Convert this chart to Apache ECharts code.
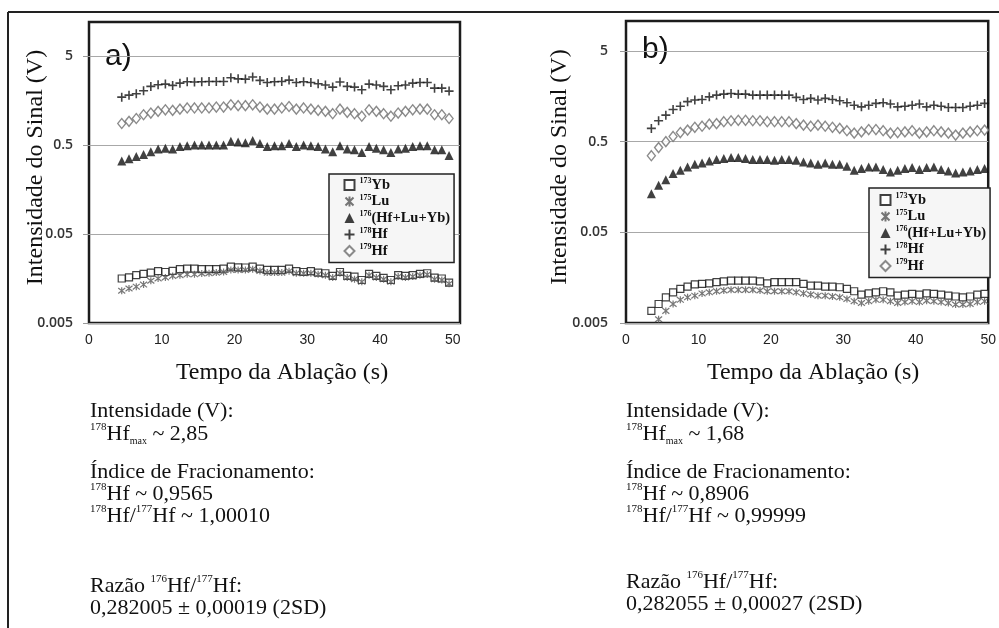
<!DOCTYPE html>
<html><head><meta charset="utf-8">
<script src="https://cdn.jsdelivr.net/npm/echarts@6/dist/echarts.min.js"></script>
<style>html,body{margin:0;padding:0;background:#fff}#c{width:999px;height:628px}</style>
</head><body><div id="c"></div>
<script>
// ---------- DATA ----------
const timeA = [4.5,5.5,6.5,7.5,8.5,9.5,10.5,11.5,12.5,13.5,14.5,15.5,16.5,17.5,18.5,19.5,20.5,21.5,22.5,23.5,24.5,25.5,26.5,27.5,28.5,29.5,30.5,31.5,32.5,33.5,34.5,35.5,36.5,37.5,38.5,39.5,40.5,41.5,42.5,43.5,44.5,45.5,46.5,47.5,48.5,49.5];
const yb173A = [0.0158,0.0163,0.0172,0.0178,0.0184,0.0191,0.0187,0.0192,0.0201,0.0204,0.0204,0.0201,0.0201,0.0201,0.0204,0.0215,0.0211,0.0210,0.0215,0.0204,0.0197,0.0197,0.0197,0.0204,0.0191,0.0187,0.0191,0.0184,0.0181,0.0169,0.0187,0.0169,0.0166,0.0152,0.0178,0.0169,0.0161,0.0152,0.0172,0.0169,0.0172,0.0178,0.0181,0.0162,0.0158,0.0142];
const lu175A = [0.0115,0.0122,0.0128,0.0135,0.0149,0.0158,0.0162,0.0169,0.0172,0.0176,0.0176,0.0180,0.0181,0.0184,0.0187,0.0197,0.0197,0.0197,0.0201,0.0192,0.0184,0.0184,0.0184,0.0191,0.0181,0.0181,0.0181,0.0176,0.0172,0.0162,0.0181,0.0162,0.0155,0.0145,0.0172,0.0162,0.0155,0.0145,0.0166,0.0162,0.0166,0.0172,0.0175,0.0155,0.0152,0.0138];
const sum176A = [0.33,0.35,0.37,0.39,0.42,0.45,0.46,0.45,0.48,0.49,0.50,0.50,0.50,0.50,0.50,0.55,0.54,0.53,0.56,0.52,0.48,0.49,0.49,0.52,0.48,0.50,0.49,0.48,0.45,0.42,0.49,0.45,0.44,0.41,0.48,0.46,0.44,0.41,0.45,0.46,0.48,0.49,0.49,0.44,0.44,0.38];
const hf178A = [1.72,1.81,1.88,2.03,2.27,2.37,2.41,2.33,2.47,2.56,2.54,2.56,2.58,2.58,2.58,2.84,2.76,2.74,2.89,2.65,2.51,2.56,2.58,2.67,2.51,2.56,2.51,2.43,2.35,2.23,2.54,2.27,2.23,2.08,2.41,2.35,2.27,2.08,2.31,2.35,2.47,2.51,2.51,2.17,2.17,2.01];
const hf179A = [0.87,0.92,0.99,1.09,1.14,1.19,1.24,1.22,1.26,1.30,1.30,1.30,1.30,1.33,1.33,1.41,1.38,1.38,1.41,1.33,1.26,1.26,1.30,1.35,1.26,1.30,1.26,1.22,1.19,1.12,1.26,1.16,1.12,1.05,1.24,1.19,1.12,1.05,1.14,1.19,1.24,1.26,1.26,1.09,1.09,0.99];

const timeB = [3.5,4.5,5.5,6.5,7.5,8.5,9.5,10.5,11.5,12.5,13.5,14.5,15.5,16.5,17.5,18.5,19.5,20.5,21.5,22.5,23.5,24.5,25.5,26.5,27.5,28.5,29.5,30.5,31.5,32.5,33.5,34.5,35.5,36.5,37.5,38.5,39.5,40.5,41.5,42.5,43.5,44.5,45.5,46.5,47.5,48.5,49.5];
const yb173B = [0.0068,0.0081,0.0096,0.0109,0.0119,0.0126,0.0133,0.0135,0.0137,0.0141,0.0144,0.0147,0.0147,0.0147,0.0147,0.0144,0.0137,0.0141,0.0141,0.0141,0.0141,0.0135,0.0129,0.0129,0.0126,0.0126,0.0124,0.0119,0.0112,0.0103,0.0106,0.0109,0.0112,0.0109,0.0100,0.0103,0.0105,0.0103,0.0106,0.0105,0.0103,0.0100,0.0098,0.0096,0.0098,0.0103,0.0105];
const lu175B = [null,0.0055,0.0068,0.0081,0.0090,0.0096,0.0100,0.0106,0.0109,0.0112,0.0114,0.0116,0.0116,0.0116,0.0116,0.0114,0.0112,0.0112,0.0112,0.0112,0.0109,0.0106,0.0103,0.0100,0.0100,0.0098,0.0096,0.0092,0.0087,0.0083,0.0087,0.0090,0.0090,0.0087,0.0083,0.0085,0.0087,0.0085,0.0088,0.0087,0.0085,0.0083,0.0080,0.0080,0.0081,0.0085,0.0087];
const sum176B = [0.133,0.165,0.19,0.222,0.242,0.263,0.281,0.291,0.306,0.317,0.325,0.334,0.334,0.325,0.317,0.317,0.317,0.312,0.317,0.317,0.312,0.299,0.291,0.281,0.291,0.281,0.281,0.268,0.242,0.252,0.263,0.263,0.246,0.232,0.242,0.252,0.259,0.246,0.259,0.263,0.246,0.238,0.226,0.232,0.238,0.246,0.252];
const hf178B = [0.70,0.85,0.98,1.13,1.23,1.38,1.44,1.46,1.56,1.63,1.67,1.70,1.67,1.67,1.63,1.63,1.63,1.63,1.63,1.63,1.54,1.46,1.50,1.44,1.50,1.46,1.41,1.34,1.26,1.21,1.26,1.32,1.34,1.30,1.21,1.23,1.26,1.30,1.21,1.26,1.23,1.19,1.19,1.19,1.23,1.26,1.32];
const hf179B = [0.35,0.43,0.50,0.57,0.63,0.67,0.72,0.74,0.78,0.79,0.83,0.85,0.86,0.86,0.85,0.85,0.83,0.83,0.83,0.83,0.79,0.76,0.74,0.76,0.74,0.72,0.70,0.66,0.62,0.64,0.68,0.68,0.66,0.62,0.63,0.64,0.66,0.62,0.64,0.66,0.64,0.62,0.59,0.62,0.64,0.66,0.67];

const yTickLabels = ['0.005','0.05','0.5','5'];
const xTickLabels = [0,10,20,30,40,50];
const isoMass = ['173','175','176','178','179'];
const isoName = ['Yb','Lu','(Hf+Lu+Yb)','Hf','Hf'];
const seriesNames = ['173Yb','175Lu','176(Hf+Lu+Yb)','178Hf','179Hf'];
const Y_MIN = 0.005, Y_MAX_A = 12, Y_MAX_B = 10.7, X_MAX_A = 51, X_MAX_B = 50;

const annotA = [
  '{n|Intensidade (V):}',
  '{s|178}{n|Hf}{u|max}{n| ~ 2,85}',
  '{n|Índice de Fracionamento:}',
  '{s|178}{n|Hf ~ 0,9565}',
  '{s|178}{n|Hf/}{s|177}{n|Hf ~ 1,00010}',
  '{n|Razão }{s|176}{n|Hf/}{s|177}{n|Hf:}',
  '{n|0,282005 ± 0,00019 (2SD)}'
];
const annotB = [
  '{n|Intensidade (V):}',
  '{s|178}{n|Hf}{u|max}{n| ~ 1,68}',
  '{n|Índice de Fracionamento:}',
  '{s|178}{n|Hf ~ 0,8906}',
  '{s|178}{n|Hf/}{s|177}{n|Hf ~ 0,99999}',
  '{n|Razão }{s|176}{n|Hf/}{s|177}{n|Hf:}',
  '{n|0,282055 ± 0,00027 (2SD)}'
];
const annotYA = [411, 434, 472, 494, 516, 586, 608];
const annotYB = [411, 434, 472, 494, 516, 582, 604];

// ---------- BUILD ----------
const SERIF = '"Liberation Serif", "Times New Roman", serif';
const lg = v => Math.log10(v / Y_MIN);
const pts = (t, vals) => t.map((x, i) => vals[i] == null ? null : [x, lg(vals[i])]).filter(p => p);

const SYM_PLUS = 'path://M0,5L10,5M5,0L5,10';
const SYM_STAR = 'path://M1,1L9,9M9,1L1,9M5,0L5,10';
const styles = [
  {symbol: 'rect', symbolSize: 7, itemStyle: {color: '#fff', borderColor: '#111', borderWidth: 1.2}},
  {symbol: SYM_STAR, symbolSize: 7, itemStyle: {color: 'none', borderColor: '#555', borderWidth: 1.2}},
  {symbol: 'triangle', symbolSize: 9, itemStyle: {color: '#111'}},
  {symbol: SYM_PLUS, symbolSize: 9, itemStyle: {color: 'none', borderColor: '#111', borderWidth: 1.6}},
  {symbol: 'diamond', symbolSize: [8, 10], itemStyle: {color: '#fff', borderColor: '#6e6e6e', borderWidth: 1.4}}
];
const setsA = [yb173A, lu175A, sum176A, hf178A, hf179A];
const setsB = [yb173B, lu175B, sum176B, hf178B, hf179B];
const series = [];
[[timeA, setsA, 0], [timeB, setsB, 1]].forEach(([t, sets, gi]) => {
  sets.forEach((vals, k) => {
    series.push(Object.assign({
      type: 'scatter', name: seriesNames[k], xAxisIndex: gi, yAxisIndex: gi,
      data: pts(t, vals), animation: false, emphasis: {disabled: true}
    }, styles[k]));
  });
});

const yLabelFmt = v => { const i = Math.round(v); return (Math.abs(v - i) < 1e-6 && i >= 0 && i < yTickLabels.length) ? yTickLabels[i] : ''; };
const xLabelFmt = v => xTickLabels.indexOf(v) >= 0 ? String(v) : '';

function xAxisCfg(gi, max, padL) {
  return {
    gridIndex: gi, type: 'value', min: 0, max: max, interval: 10,
    axisLine: {show: false}, axisTick: {show: false}, splitLine: {show: false},
    axisLabel: {formatter: xLabelFmt, margin: 10, fontFamily: '"Liberation Sans", Arial, sans-serif', fontSize: 14, color: '#222'},
    name: 'Tempo da Ablação (s)', nameLocation: 'middle', nameGap: 38, nameMoveOverlap: false,
    nameTextStyle: {fontFamily: SERIF, fontSize: 24, color: '#111', padding: [0, 0, 0, padL]}
  };
}
function yAxisCfg(gi, ymax, gap, margin) {
  return {
    gridIndex: gi, type: 'value', min: 0, max: lg(ymax), interval: 1,
    axisLine: {show: false},
    axisTick: {show: true, length: 6, lineStyle: {color: '#999'}, customValues: [0, 1, 2, 3]},
    splitLine: {show: true, lineStyle: {color: '#a8a8a8', width: 1}},
    axisLabel: {formatter: yLabelFmt, margin: margin, fontFamily: '"Open Sans", sans-serif', fontSize: 14, fontWeight: 600, color: '#333', customValues: [0, 1, 2, 3]},
    name: 'Intensidade do Sinal (V)', nameLocation: 'middle', nameGap: gap, nameMoveOverlap: false,
    nameTextStyle: {fontFamily: SERIF, fontSize: 24, color: '#111', padding: [0, 0, 0, 10]}
  };
}
function legendCfg(left, top, pad) {
  return {
    orient: 'vertical', left: left, top: top, data: seriesNames,
    itemWidth: 10, itemHeight: 10, itemGap: 1, padding: pad,
    backgroundColor: '#f6f6f6', borderColor: '#222', borderWidth: 1.5,
    selectedMode: false,
    formatter: name => { const k = seriesNames.indexOf(name); return '{s|' + isoMass[k] + '}{n|' + isoName[k] + '}'; },
    textStyle: {
      rich: {
        s: {fontFamily: SERIF, fontWeight: 'bold', fontSize: 8, lineHeight: 10, verticalAlign: 'top', color: '#111'},
        n: {fontFamily: SERIF, fontWeight: 'bold', fontSize: 14.5, lineHeight: 16, color: '#111'}
      }
    }
  };
}
const RICH = {
  n: {fontFamily: SERIF, fontSize: 22, lineHeight: 24, fill: '#111'},
  s: {fontFamily: SERIF, fontSize: 11, lineHeight: 14, verticalAlign: 'top', fill: '#111'},
  u: {fontFamily: SERIF, fontSize: 10, lineHeight: 12, verticalAlign: 'bottom', fill: '#111'}
};
const graphic = [
  {type: 'line', shape: {x1: 8, y1: 12, x2: 999, y2: 12}, style: {stroke: '#222', lineWidth: 2}},
  {type: 'line', shape: {x1: 8, y1: 12, x2: 8, y2: 628}, style: {stroke: '#222', lineWidth: 2}},
  {type: 'text', x: 105, y: 57, style: {text: 'a)', font: '30px "Liberation Sans", Arial, sans-serif', fill: '#111', verticalAlign: 'middle'}},
  {type: 'text', x: 642, y: 50, style: {text: 'b)', font: '30px "Liberation Sans", Arial, sans-serif', fill: '#111', verticalAlign: 'middle'}}
];
annotA.forEach((t, i) => graphic.push({type: 'text', x: 90, y: annotYA[i], style: {text: t, rich: RICH, font: '22px ' + SERIF, fill: '#111', verticalAlign: 'middle', align: 'left'}}));
annotB.forEach((t, i) => graphic.push({type: 'text', x: 626, y: annotYB[i], style: {text: t, rich: RICH, font: '22px ' + SERIF, fill: '#111', verticalAlign: 'middle', align: 'left'}}));

const chart = echarts.init(document.getElementById('c'), null, {renderer: 'canvas'});
chart.setOption({
  backgroundColor: '#fff',
  animation: false,
  grid: [
    {left: 89, top: 22, width: 371, height: 301, show: true, borderColor: '#1c1c1c', borderWidth: 2.5, backgroundColor: 'transparent'},
    {left: 626, top: 21, width: 366, height: 302, show: true, borderColor: '#1c1c1c', borderWidth: 2.5, backgroundColor: 'transparent'}
  ],
  xAxis: [xAxisCfg(0, X_MAX_A, 15), xAxisCfg(1, X_MAX_B, 12)],
  yAxis: [yAxisCfg(0, Y_MAX_A, 41, 16), yAxisCfg(1, Y_MAX_B, 54, 18)],
  legend: [legendCfg(329, 174, [3, 4, 4, 13]), legendCfg(869, 188, [4, 4, 4, 9])],
  graphic: graphic,
  series: series
});
</script></body></html>
